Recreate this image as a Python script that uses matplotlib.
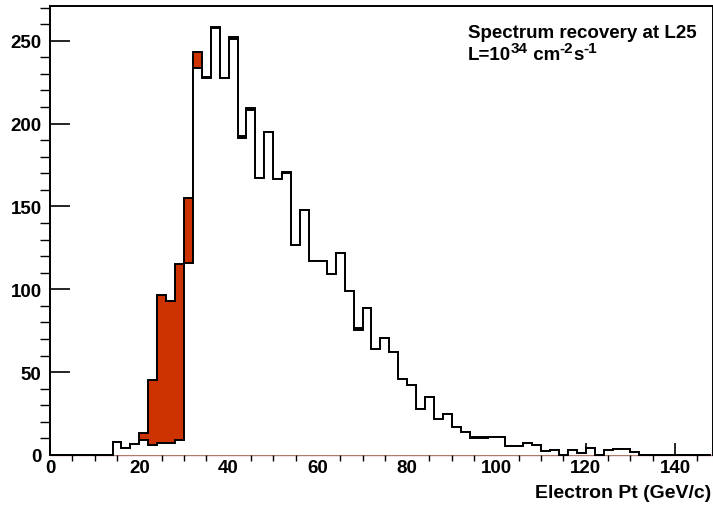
import numpy as np
import matplotlib
matplotlib.use("Agg")
import matplotlib.pyplot as plt
from matplotlib.ticker import MultipleLocator

plt.rcParams['font.family'] = ['Liberation Sans', 'DejaVu Sans']
plt.rcParams['font.weight'] = 'bold'

# bin edges, 2 GeV/c wide
edges = np.arange(0, 150, 2)

# black histogram (white fill), one value per bin
reference = [0, 0, 0, 0, 0, 0, 0,
             8, 4, 6.5, 9, 6, 7.5, 7, 9,
             116, 233.5, 227.5, 257.5, 227.5, 251, 191.5, 208.5, 167, 195,
             166.5, 170, 127, 148, 117, 117, 109, 122, 99, 75.5,
             89, 64, 70.5, 62, 46, 42, 28, 35, 22, 25,
             17, 14, 10, 10, 11, 11, 5.5, 5.5, 7, 6,
             2.5, 3, 0, 3, 1, 4.5, 0, 3, 3.5, 3.5, 2,
             0, 0, 0, 0, 0, 0, 0, 0]

# red histogram (recovered spectrum)
recovered = [0, 0, 0, 0, 0, 0, 0,
             8, 4, 6.5, 13, 45, 96.5, 93, 115,
             155, 243, 228, 258.5, 227.5, 252, 192.5, 209.5, 167, 195,
             166.5, 171, 127, 148, 117, 117, 109, 122, 99, 76.5,
             89, 64, 70.5, 62, 46, 42, 28, 35, 22, 25,
             17, 14, 11, 11, 11, 11, 5.5, 5.5, 7, 6,
             2.5, 3, 0, 3, 1, 4.5, 0, 3, 3.5, 3.5, 2,
             0, 0, 0, 0, 0, 0, 0, 0]

W, H = 713, 506
fig = plt.figure(figsize=(W / 100, H / 100), dpi=100)
ax = fig.add_axes([50 / W, 50 / H, (713 - 50) / W, (456 - 7) / H])

ax.stairs(recovered, edges, fill=True, color='#cc3300', zorder=3)
ax.stairs(recovered, edges, color='black', lw=1.4, zorder=3, clip_on=False)
ax.stairs(reference, edges, fill=True, color='white', zorder=4)
ax.stairs(reference, edges, color='black', lw=1.4, zorder=4, clip_on=False)

ax.set_xlim(0, 148.5)
ax.set_ylim(0, 271)

ax.xaxis.set_major_locator(MultipleLocator(20))
ax.xaxis.set_minor_locator(MultipleLocator(5))
ax.yaxis.set_major_locator(MultipleLocator(50))
ax.yaxis.set_minor_locator(MultipleLocator(10))
ax.tick_params(axis='both', direction='in', labelsize=13.5, top=False, right=False)
ax.tick_params(axis='y', which='major', length=14.4, width=1.2, pad=6)
ax.tick_params(axis='y', which='minor', length=7.2, width=1.0)
ax.tick_params(axis='x', which='major', length=9, width=1.2, pad=3)
ax.tick_params(axis='x', which='minor', length=4.5, width=1.0)

for side in ['left', 'top', 'right']:
    ax.spines[side].set_linewidth(1.4)
ax.spines['bottom'].set_color('#b07a6a')
ax.spines['bottom'].set_linewidth(1.0)
ax.spines['bottom'].set_zorder(1)

fig.text(467.5 / W, 1 - 37.5 / H, 'Spectrum recovery at L25', fontsize=13.5,
         fontweight='bold', va='baseline', ha='left')

# second line with superscripts, placed piece by piece
renderer = fig.canvas.get_renderer()
pieces = [('L=10', 13.5, 0), ('34', 11, 6.5), (' cm', 13.5, 0), ('-2', 11, 6.5),
          ('s', 13.5, 0), ('-1', 11, 6.5)]
x = 467.5 / W
for s, size, rise in pieces:
    t = fig.text(x, 1 - (59.5 - rise) / H, s, fontsize=size, fontweight='bold',
                 va='baseline', ha='left')
    x = t.get_window_extent(renderer).x1 / W

fig.text(711.5 / W, 1 - 498 / H, 'Electron Pt (GeV/c)', fontsize=14,
         fontweight='bold', va='baseline', ha='right')

fig.savefig('out.png', dpi=100)
